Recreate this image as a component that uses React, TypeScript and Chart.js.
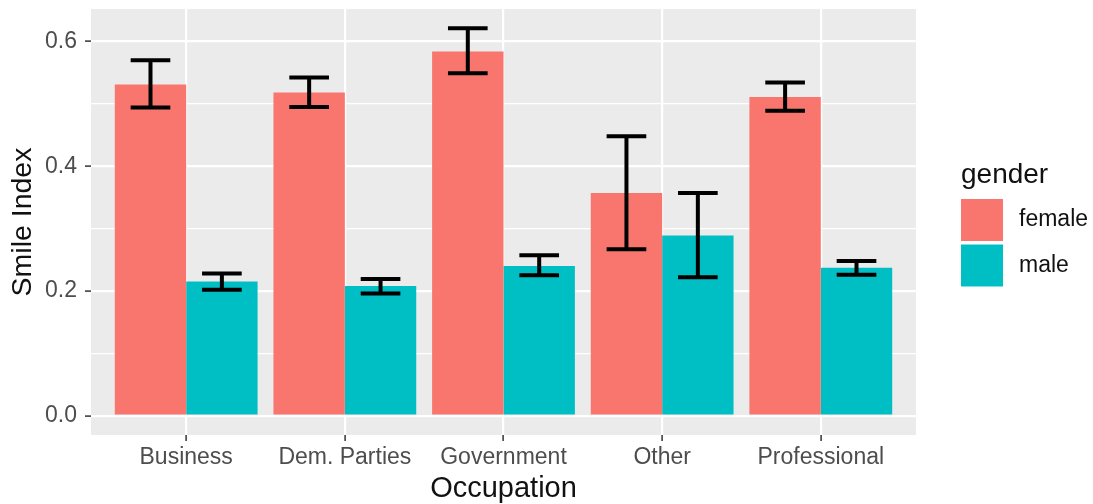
import React, { useEffect, useRef } from 'react';
import { Chart, registerables } from 'chart.js';

Chart.register(...registerables);

const categories = ['Business', 'Dem. Parties', 'Government', 'Other', 'Professional'];
const seriesNames = ['female', 'male'];
const seriesColors = ['#F8766D', '#00BFC4'];

const femaleMean = [0.531, 0.518, 0.584, 0.357, 0.511];
const femaleLow = [0.494, 0.495, 0.549, 0.267, 0.489];
const femaleHigh = [0.570, 0.542, 0.621, 0.448, 0.534];

const maleMean = [0.215, 0.208, 0.240, 0.289, 0.237];
const maleLow = [0.202, 0.196, 0.225, 0.222, 0.226];
const maleHigh = [0.228, 0.219, 0.257, 0.357, 0.248];

const yTickValues = [0, 0.1, 0.2, 0.3, 0.4, 0.5, 0.6];
const yRange = [-0.031, 0.652];
const xRange = [0.4, 5.6];

const errLow = [femaleLow, maleLow];
const errHigh = [femaleHigh, maleHigh];

const FONT = "'Liberation Sans', Arial, sans-serif";

const isMajorY = (v: number) => Math.round(v * 10) % 2 === 0;

const panelBg = {
  id: 'panelBg',
  beforeDraw(chart: any) {
    const { ctx, chartArea } = chart;
    ctx.save();
    ctx.fillStyle = '#EBEBEB';
    ctx.fillRect(chartArea.left, chartArea.top, chartArea.right - chartArea.left, chartArea.bottom - chartArea.top);
    ctx.restore();
  },
};

const errorBars = {
  id: 'errorBars',
  afterDatasetsDraw(chart: any) {
    const { ctx } = chart;
    const xs = chart.scales.x;
    const ys = chart.scales.y;
    const half = xs.getPixelForValue(1.125) - xs.getPixelForValue(1);
    ctx.save();
    ctx.strokeStyle = '#000';
    ctx.lineWidth = 4;
    ctx.lineCap = 'butt';
    chart.data.datasets.forEach((_: any, d: number) => {
      const meta = chart.getDatasetMeta(d);
      meta.data.forEach((el: any, i: number) => {
        const x = el.x;
        const yT = ys.getPixelForValue(errHigh[d][i]);
        const yB = ys.getPixelForValue(errLow[d][i]);
        ctx.beginPath();
        ctx.moveTo(x, yT);
        ctx.lineTo(x, yB);
        ctx.moveTo(x - half, yT);
        ctx.lineTo(x + half, yT);
        ctx.moveTo(x - half, yB);
        ctx.lineTo(x + half, yB);
        ctx.stroke();
      });
    });
    ctx.restore();
  },
};

const ggLegend = {
  id: 'ggLegend',
  afterDraw(chart: any) {
    const { ctx, chartArea } = chart;
    const left = chartArea.right + 45;
    const cy = (chartArea.top + chartArea.bottom) / 2;
    ctx.save();
    ctx.fillStyle = '#111';
    ctx.font = `28px ${FONT}`;
    ctx.textAlign = 'left';
    ctx.textBaseline = 'alphabetic';
    ctx.fillText('gender', left, cy - 39);
    const key = 42;
    const step = 45.5;
    const top0 = cy - 23;
    chart.data.datasets.forEach((ds: any, i: number) => {
      const top = top0 + i * step;
      ctx.fillStyle = ds.backgroundColor;
      ctx.fillRect(left, top, key, key);
      ctx.fillStyle = '#111';
      ctx.font = `23px ${FONT}`;
      ctx.textBaseline = 'middle';
      ctx.fillText(ds.label, left + 58, top + key / 2);
    });
    ctx.restore();
  },
};

export default function App() {
  const ref = useRef<HTMLCanvasElement | null>(null);

  useEffect(() => {
    document.body.style.margin = '0';
    const canvas = ref.current!;
    const means = [femaleMean, maleMean];
    const chart = new Chart(canvas, {
      type: 'bar',
      data: {
        datasets: seriesNames.map((name, d) => ({
          label: name,
          data: means[d].map((v, i) => ({ x: i + 1, y: v })),
          backgroundColor: seriesColors[d],
          borderWidth: 0,
          categoryPercentage: 0.9,
          barPercentage: 1.0,
        })),
      },
      options: {
        responsive: false,
        animation: false,
        events: [],
        layout: { padding: { top: 9, right: 177, bottom: 0, left: 0 } },
        plugins: {
          legend: { display: false },
          tooltip: { enabled: false },
        },
        scales: {
          x: {
            type: 'linear',
            min: xRange[0],
            max: xRange[1],
            offset: false,
            afterBuildTicks: (scale: any) => {
              scale.ticks = categories.map((_, i) => ({ value: i + 1 }));
            },
            afterFit: (scale: any) => {
              scale.height = 69;
              scale.paddingLeft = 0;
              scale.paddingRight = 0;
            },
            border: { display: false },
            grid: {
              offset: false,
              color: '#FFFFFF',
              lineWidth: 2.2,
              drawTicks: true,
              tickLength: 6,
              tickColor: '#333333',
              tickWidth: 1.5,
            },
            ticks: {
              autoSkip: false,
              maxRotation: 0,
              padding: 3,
              color: '#4D4D4D',
              font: { family: FONT, size: 23 },
              callback: (v: any) => categories[Math.round(Number(v)) - 1] ?? '',
            },
            title: {
              display: true,
              text: 'Occupation',
              color: '#111',
              font: { family: FONT, size: 29 },
              padding: { top: 0, bottom: -2 },
            },
          },
          y: {
            type: 'linear',
            min: yRange[0],
            max: yRange[1],
            afterBuildTicks: (scale: any) => {
              scale.ticks = yTickValues.map((v) => ({ value: v }));
            },
            afterFit: (scale: any) => {
              scale.width = 91;
              scale.paddingTop = 0;
              scale.paddingBottom = 0;
            },
            border: { display: false },
            grid: {
              color: '#FFFFFF',
              lineWidth: (c: any) => (isMajorY(c.tick.value) ? 2.2 : 1.2),
              drawTicks: true,
              tickLength: 6,
              tickColor: (c: any) => (isMajorY(c.tick.value) ? '#333333' : 'rgba(0,0,0,0)'),
              tickWidth: 1.5,
            },
            ticks: {
              padding: 8,
              color: '#4D4D4D',
              font: { family: FONT, size: 23 },
              callback: (v: any) => (isMajorY(Number(v)) ? Number(v).toFixed(1) : ''),
            },
            title: {
              display: true,
              text: 'Smile Index',
              color: '#111',
              font: { family: FONT, size: 28.5 },
              padding: { top: 6, bottom: 0 },
            },
          },
        },
      },
      plugins: [panelBg, errorBars, ggLegend],
    } as any);
    return () => chart.destroy();
  }, []);

  return (
    <div style={{ width: 1093, height: 504 }}>
      <canvas ref={ref} width={1093} height={504} style={{ display: 'block' }} />
    </div>
  );
}
